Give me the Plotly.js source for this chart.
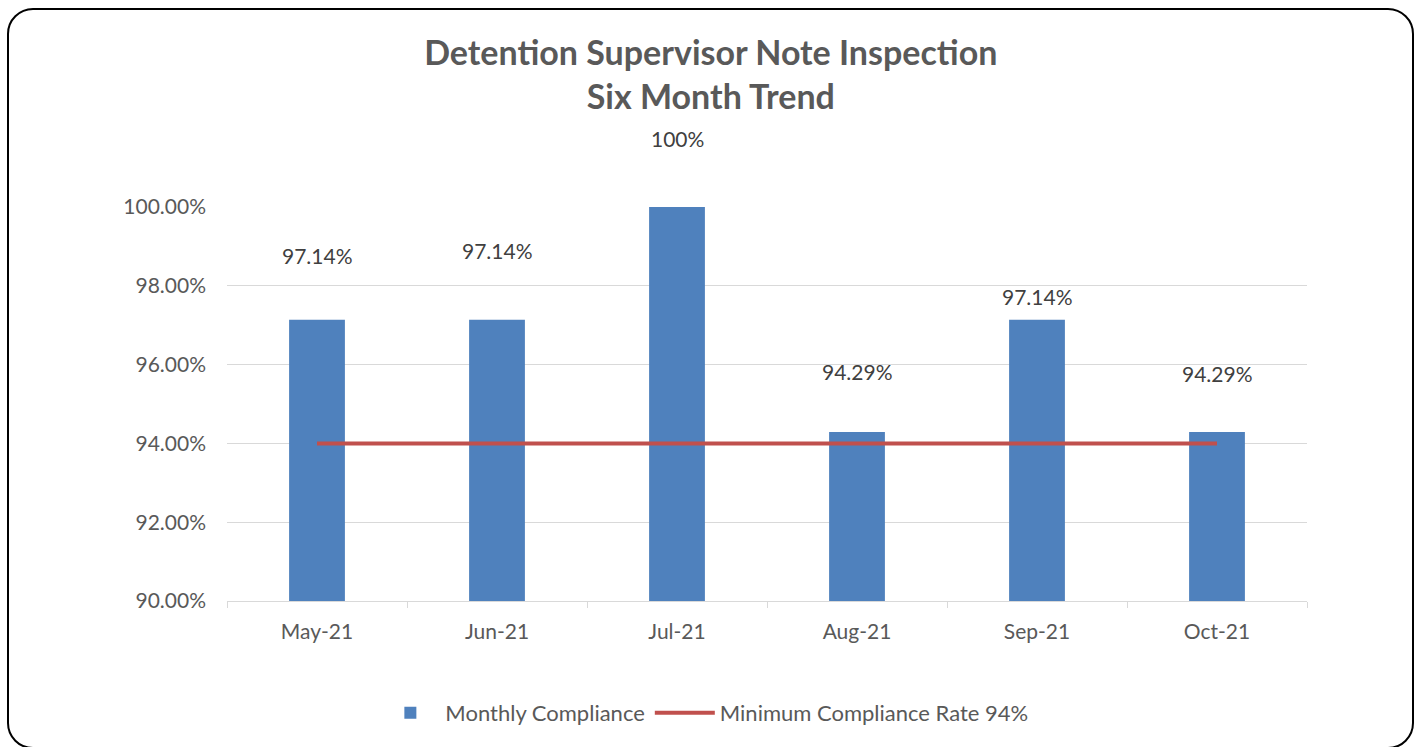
<!DOCTYPE html>
<html>
<head>
<meta charset="utf-8">
<script src="https://cdn.plot.ly/plotly-3.0.1.min.js"></script>
<style>
  html, body { margin: 0; padding: 0; background: #fff; }
  #wrap { position: relative; width: 1416px; height: 747px; overflow: hidden; }
  #chart { position: absolute; left: 0; top: 0; width: 1416px; height: 747px; }
  #frame { position: absolute; left: 7px; top: 8px; width: 1403px; height: 737px;
           border: 2px solid #000; border-radius: 26px; pointer-events: none; }
</style>
</head>
<body>
<div id="wrap">
  <div id="chart"></div>
  <div id="frame"></div>
</div>
<script>
const months = ["May-21", "Jun-21", "Jul-21", "Aug-21", "Sep-21", "Oct-21"];
const monthlyCompliance = [97.14, 97.14, 100, 94.29, 97.14, 94.29];
const minimumRate = [94, 94, 94, 94, 94, 94];
const labelTexts = ["97.14%", "97.14%", "100%", "94.29%", "97.14%", "94.29%"];

// label vertical offsets in pixels above bar tops (as in original Excel layout)
const labelShift = [64, 69, 69, 60, 23, 58];

const font = "Lato, 'Open Sans', sans-serif";
const grey = "#595959";

const traces = [
  {
    type: "bar",
    name: "Monthly Compliance",
    x: months,
    y: monthlyCompliance,
    marker: { color: "#4F81BD" },
    hoverinfo: "skip"
  },
  {
    type: "scatter",
    mode: "lines",
    name: "Minimum Compliance Rate 94%",
    x: months,
    y: minimumRate,
    line: { color: "#C0504D", width: 4 },
    hoverinfo: "skip"
  }
];

const annotations = months.map((m, i) => ({
  x: m, y: monthlyCompliance[i], xref: "x", yref: "y",
  text: labelTexts[i], showarrow: false, yshift: labelShift[i],
  font: { family: font, size: 21, color: "#404040" }
}));

const layout = {
  width: 1416, height: 747,
  margin: { l: 227, r: 109, t: 207, b: 146 },
  paper_bgcolor: "#fff", plot_bgcolor: "#fff",
  title: {
    text: "<b>Detention Supervisor Note Inspection<br>Six Month Trend</b>",
    font: { family: font, size: 34, color: grey },
    x: 0.502, xref: "container", xanchor: "center",
    y: 0.913, yref: "container", yanchor: "middle"
  },
  bargap: 0.69,
  xaxis: {
    type: "category",
    tickson: "boundaries",
    ticks: "outside", ticklen: 6, tickcolor: "#d9d9d9",
    showline: true, linecolor: "#d9d9d9", linewidth: 1,
    showgrid: false,
    tickfont: { family: font, size: 21, color: grey },
    ticklabelstandoff: 12,
    fixedrange: true
  },
  yaxis: {
    range: [90, 100], dtick: 2, tick0: 90,
    tickformat: ".2f", ticksuffix: "%",
    showgrid: true, gridcolor: "#d9d9d9", gridwidth: 1,
    zeroline: false, showline: false,
    tickfont: { family: font, size: 21, color: grey },
    ticklabelstandoff: 20,
    fixedrange: true
  },
  showlegend: true,
  legend: {
    orientation: "h", x: 0.442, xanchor: "center",
    y: -0.284, yanchor: "middle",
    font: { family: font, size: 22, color: grey },
    itemwidth: 60, traceorder: "normal"
  },
  annotations: annotations
};

Plotly.newPlot("chart", traces, layout, { displayModeBar: false, staticPlot: true });
</script>
</body>
</html>
